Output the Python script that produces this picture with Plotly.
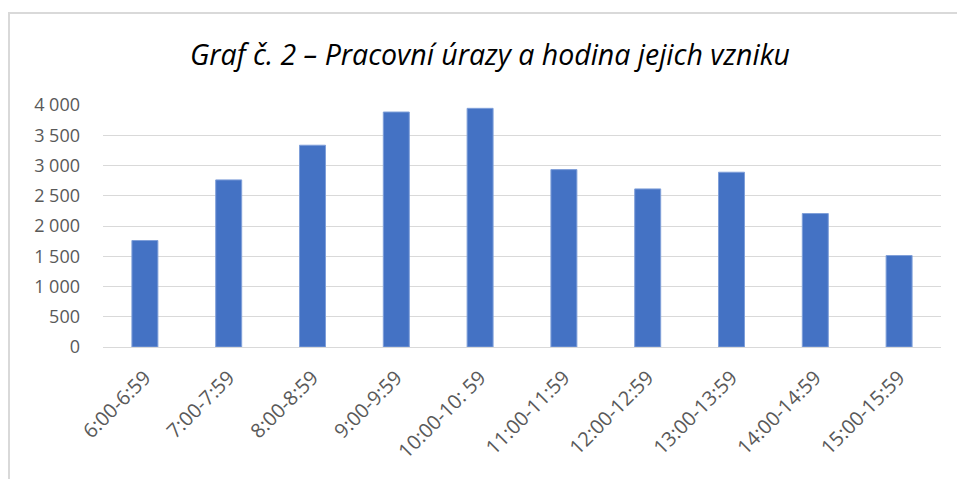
import plotly.graph_objects as go

categories = ["6:00-6:59", "7:00-7:59", "8:00-8:59", "9:00-9:59", "10:00-10: 59",
              "11:00-11:59", "12:00-12:59", "13:00-13:59", "14:00-14:59", "15:00-15:59"]
values = [1760, 2762, 3335, 3884, 3945, 2932, 2613, 2889, 2206, 1512]
y_ticks = [0, 500, 1000, 1500, 2000, 2500, 3000, 3500, 4000]

W, H = 957, 479
L, R, T, B = 103, 16, 105, 132
pw = W - L - R
ph = H - T - B

fig = go.Figure(go.Bar(
    x=categories, y=values,
    marker=dict(color="#4472C4", line=dict(color="#7F9FD9", width=1)),
    hoverinfo="x+y",
))

font_family = "Open Sans, Noto Sans, sans-serif"

fig.update_layout(
    width=W, height=H,
    margin=dict(l=L, r=R, t=T, b=B),
    paper_bgcolor="white", plot_bgcolor="white",
    separators=", ",
    bargap=0.69,
    showlegend=False,
    title=dict(
        text="<i>Graf č. 2 – Pracovní úrazy a hodina jejich vzniku</i>",
        x=490 / W, xanchor="center",
        y=1 - 55 / H, yanchor="middle",
        font=dict(family=font_family, size=28.5, color="#000000"),
    ),
    xaxis=dict(
        tickangle=-45,
        tickfont=dict(family=font_family, size=20, color="#595959"),
        showgrid=False,
        showline=True, linecolor="#D9D9D9", linewidth=1,
        ticks="", automargin=False, ticklabelstandoff=10,
    ),
    yaxis=dict(
        range=[0, 4000],
        tickvals=y_ticks,
        tickformat=",d",
        tickfont=dict(family=font_family, size=18, color="#595959"),
        showgrid=True, gridcolor="#D9D9D9", gridwidth=1,
        zeroline=False, showline=False,
        ticks="", ticklabelstandoff=22, automargin=False,
    ),
    shapes=[dict(
        type="rect", xref="paper", yref="paper",
        x0=(9 - L) / pw, x1=(W + 20 - L) / pw,
        y0=(H - B - (H + 20)) / ph, y1=(H - B - 13) / ph,
        line=dict(color="#D9D9D9", width=2), fillcolor="rgba(0,0,0,0)",
        layer="below",
    )],
)

fig.write_html("out.html", config={"displayModeBar": False},
               post_script="document.body.style.margin='0px';document.body.style.padding='0px';")
